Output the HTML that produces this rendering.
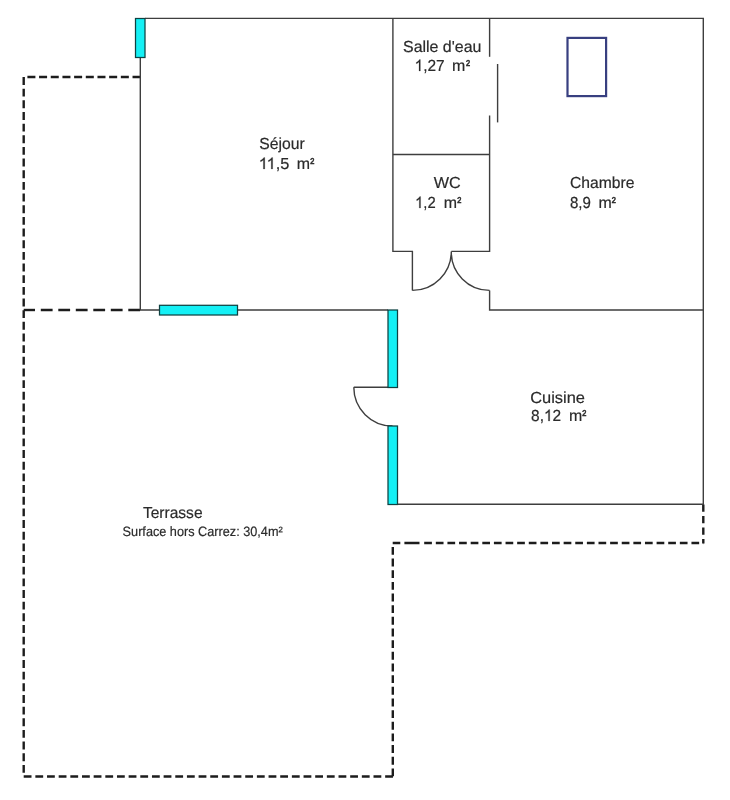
<!DOCTYPE html>
<html><head><meta charset="utf-8">
<style>
html,body{margin:0;padding:0;background:#fff;}
body{width:730px;height:800px;overflow:hidden;position:relative;}
svg{position:absolute;left:0;top:0;will-change:transform;text-rendering:geometricPrecision;}
text{font-family:"Liberation Sans",sans-serif;fill:#2b2b2b;stroke:#2b2b2b;stroke-width:0.2px;white-space:pre;}
</style></head><body>
<svg width="730" height="800" viewBox="0 0 730 800">

<!-- dashed terrace outline -->
<g fill="none" stroke="#1c1c1c" stroke-width="2.4">
  <path d="M27.4 77 H140" stroke-dasharray="8 3.68"/>
  <path d="M23.7 77 V776.5" stroke-dasharray="7.9 3.76"/>
  <path d="M23.7 776.5 H393.7" stroke-dasharray="7.8 3.86"/>
  <path d="M392.8 546.9 V776.5" stroke-dasharray="7.9 3.76"/>
  <path d="M392.7 543 H400.3 M404.4 543 H419.5"/>
  <path d="M424.2 543 H703.3" stroke-dasharray="7.7 3.92"/>
  <path d="M703.3 504.4 V543.5" stroke-dasharray="7.4 4.1"/>
  <path d="M23.7 310 H35"/>
  <path d="M40.8 310 H140.5" stroke-dasharray="11.8 5.7"/>
</g>
<!-- walls -->
<g fill="none" stroke="#3e3e3e" stroke-width="1.4">
  <path d="M145 18.4 H703.3 V504.2 H397.5"/>
  <path d="M140.3 57.5 V310"/>
  <path d="M140 310 H159.5 M238 310 H388"/>
  <path d="M353.8 387.3 H388"/>
  <path d="M353.8 387.3 A38.7 38.7 0 0 0 392.5 426"/>
  <!-- salle d'eau / wc -->
  <path d="M392.9 18.4 V251.4 H412.4 V290.4"/>
  <path d="M392.9 154.5 H489.6"/>
  <path d="M412.4 290.4 A38.9 38.9 0 0 0 451.3 251.4 A38.3 38.3 0 0 0 489.6 290.4"/>
  <path d="M451.3 251.4 H489.6 V115.6"/>
  <path d="M489.6 18.4 V56.8"/>
  <path d="M497.6 64 V122.4"/>
  <path d="M489.6 290.4 V310 H703.3"/>
</g>
<!-- windows -->
<g fill="#14f0f5" stroke="#0e4242" stroke-width="1.25">
  <rect x="135.5" y="18.5" width="9.5" height="39"/>
  <rect x="159.5" y="305.3" width="78" height="9.7"/>
  <rect x="388" y="310" width="9.5" height="77.5"/>
  <rect x="388" y="426" width="9.5" height="78.5"/>
</g>
<!-- bed/skylight -->
<rect x="567.5" y="37.9" width="38.6" height="58.2" fill="none" stroke="#383f80" stroke-width="2.2"/>
<!-- labels -->
<text id="t0" x="259.31" y="149" font-size="16" textLength="45.41" lengthAdjust="spacingAndGlyphs">Séjour</text>
<text id="t1" x="403.00" y="52" font-size="16" textLength="78.36" lengthAdjust="spacingAndGlyphs">Salle d&#39;eau</text>
<text id="t2" x="433.70" y="188" font-size="16" textLength="27.01" lengthAdjust="spacingAndGlyphs">WC</text>
<text id="t3" x="570.00" y="188" font-size="16" textLength="64.38" lengthAdjust="spacingAndGlyphs">Chambre</text>
<text id="t4" x="530.23" y="403" font-size="16" textLength="54.76" lengthAdjust="spacingAndGlyphs">Cuisine</text>
<text id="t5" x="142.93" y="518" font-size="16" textLength="59.61" lengthAdjust="spacingAndGlyphs">Terrasse</text>
<text id="t6" x="122.62" y="536" font-size="13.5" textLength="160.09" lengthAdjust="spacingAndGlyphs">Surface hors Carrez: 30,4m²</text>
<text id="t7" x="258.68" y="169" font-size="16" textLength="30.65" lengthAdjust="spacingAndGlyphs"><tspan style="fill:transparent;stroke:none">1</tspan><tspan style="fill:transparent;stroke:none">1</tspan>,5</text>
<text id="t8" x="296.77" y="169" font-size="16" textLength="13.26" lengthAdjust="spacingAndGlyphs">m</text>
<text id="t9" x="310.32" y="168" font-size="14.25" textLength="4.05" lengthAdjust="spacingAndGlyphs" style="stroke:#262626;stroke-width:0.5px">²</text>
<text id="t10" x="414.61" y="71" font-size="16" textLength="30.02" lengthAdjust="spacingAndGlyphs"><tspan style="fill:transparent;stroke:none">1</tspan>,27</text>
<text id="t11" x="451.92" y="71" font-size="16" textLength="13.26" lengthAdjust="spacingAndGlyphs">m</text>
<text id="t12" x="466.01" y="70" font-size="14.25" textLength="4.05" lengthAdjust="spacingAndGlyphs" style="stroke:#262626;stroke-width:0.5px">²</text>
<text id="t13" x="415.07" y="208" font-size="16" textLength="20.57" lengthAdjust="spacingAndGlyphs"><tspan style="fill:transparent;stroke:none">1</tspan>,2</text>
<text id="t14" x="443.77" y="208" font-size="16" textLength="13.26" lengthAdjust="spacingAndGlyphs">m</text>
<text id="t15" x="457.32" y="207" font-size="14.25" textLength="4.05" lengthAdjust="spacingAndGlyphs" style="stroke:#262626;stroke-width:0.5px">²</text>
<text id="t16" x="569.93" y="208" font-size="16" textLength="20.92" lengthAdjust="spacingAndGlyphs">8,9</text>
<text id="t17" x="598.46" y="208" font-size="16" textLength="13.26" lengthAdjust="spacingAndGlyphs">m</text>
<text id="t18" x="611.70" y="207" font-size="14.25" textLength="4.05" lengthAdjust="spacingAndGlyphs" style="stroke:#262626;stroke-width:0.5px">²</text>
<text id="t19" x="531.08" y="421" font-size="16" textLength="30.09" lengthAdjust="spacingAndGlyphs">8,<tspan style="fill:transparent;stroke:none">1</tspan>2</text>
<text id="t20" x="569.00" y="421" font-size="16" textLength="13.26" lengthAdjust="spacingAndGlyphs">m</text>
<text id="t21" x="582.24" y="420" font-size="14.25" textLength="4.05" lengthAdjust="spacingAndGlyphs" style="stroke:#262626;stroke-width:0.5px">²</text>
<path fill="#2b2b2b" stroke="#2b2b2b" stroke-width="26" transform="translate(258.68 169.00) scale(0.00800 -0.00781)" d="M763 0L583 0L583 1147Q518 1085 423 1029Q328 973 223 934L223 1108Q374 1179 485.5 1278Q597 1377 647 1466L763 1466Z"/>
<path fill="#2b2b2b" stroke="#2b2b2b" stroke-width="26" transform="translate(266.57 169.00) scale(0.00800 -0.00781)" d="M763 0L583 0L583 1147Q518 1085 423 1029Q328 973 223 934L223 1108Q374 1179 485.5 1278Q597 1377 647 1466L763 1466Z"/>
<path fill="#2b2b2b" stroke="#2b2b2b" stroke-width="26" transform="translate(414.61 71.00) scale(0.00753 -0.00781)" d="M763 0L583 0L583 1147Q518 1085 423 1029Q328 973 223 934L223 1108Q374 1179 485.5 1278Q597 1377 647 1466L763 1466Z"/>
<path fill="#2b2b2b" stroke="#2b2b2b" stroke-width="26" transform="translate(415.07 208.00) scale(0.00722 -0.00781)" d="M763 0L583 0L583 1147Q518 1085 423 1029Q328 973 223 934L223 1108Q374 1179 485.5 1278Q597 1377 647 1466L763 1466Z"/>
<path fill="#2b2b2b" stroke="#2b2b2b" stroke-width="26" transform="translate(543.97 421.00) scale(0.00755 -0.00781)" d="M763 0L583 0L583 1147Q518 1085 423 1029Q328 973 223 934L223 1108Q374 1179 485.5 1278Q597 1377 647 1466L763 1466Z"/>
</svg>
</body></html>
